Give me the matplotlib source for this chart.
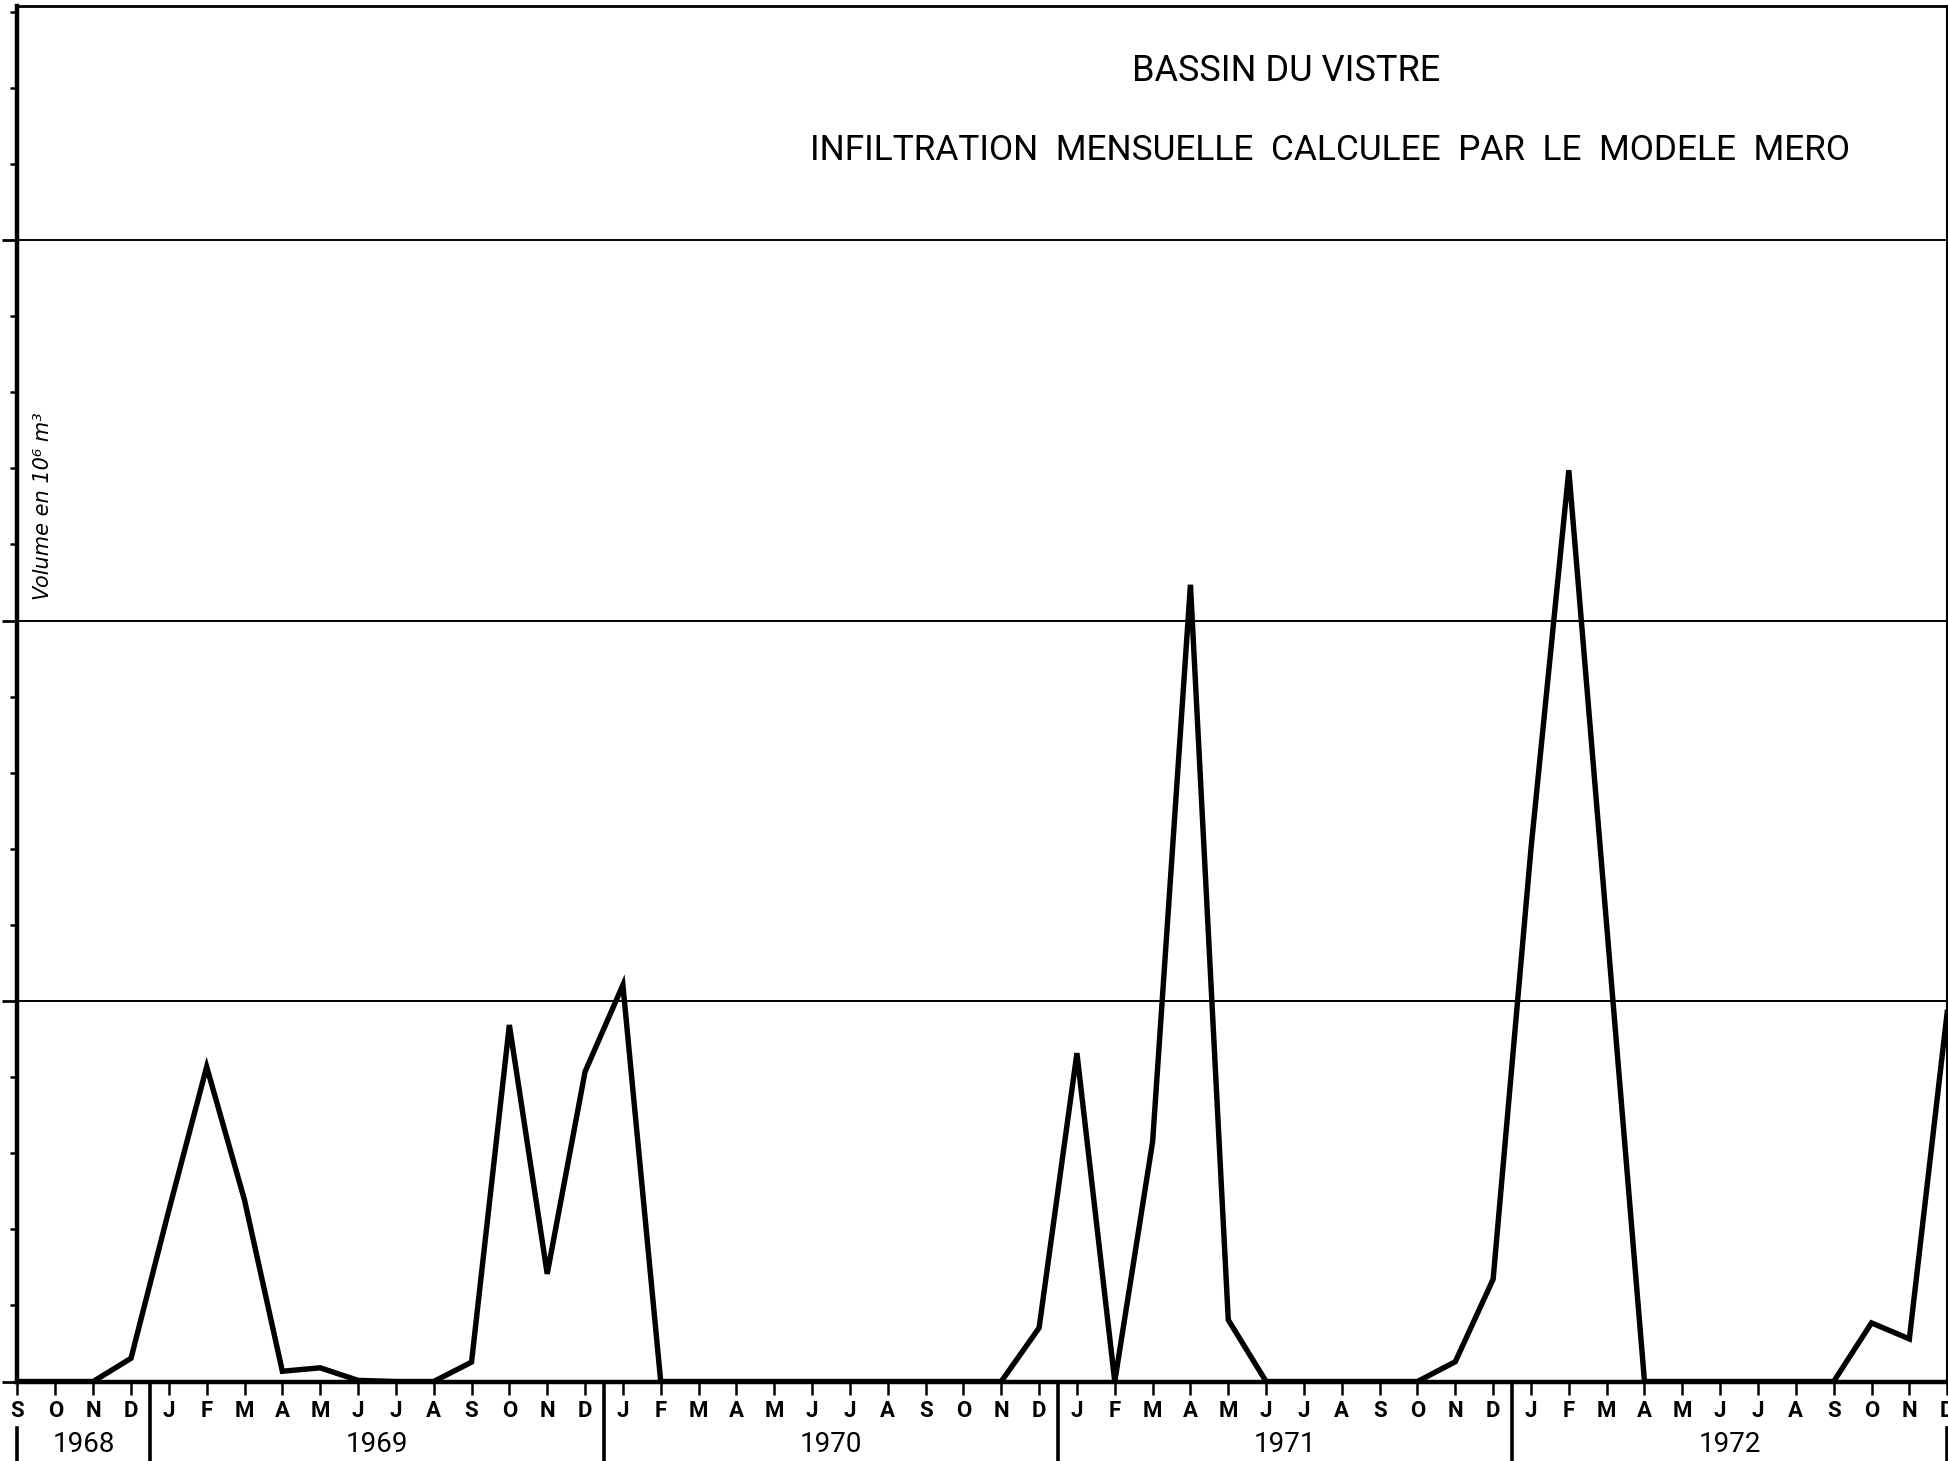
import matplotlib
matplotlib.use("Agg")
import matplotlib.pyplot as plt
import matplotlib.transforms as mtransforms
import numpy as np

# monthly infiltration, Sept 1968 -> Dec 1972 (10^6 m3)
month_labels = ["S", "O", "N", "D"] + ["J", "F", "M", "A", "M", "J", "J", "A", "S", "O", "N", "D"] * 4
years = ["1968", "1969", "1970", "1971", "1972"]
infiltration = [
    0.0, 0.0, 0.0, 0.61,                                        # 1968
    4.5, 8.27, 4.77, 0.27, 0.36, 0.03, 0.0, 0.0, 0.51, 9.37, 2.83, 8.14,   # 1969
    10.42, 0.0, 0.0, 0.0, 0.0, 0.0, 0.0, 0.0, 0.0, 0.0, 0.0, 1.41,        # 1970
    8.63, 0.0, 6.3, 20.94, 1.62, 0.0, 0.0, 0.0, 0.0, 0.0, 0.52, 2.69,     # 1971
    14.0, 23.95, 12.0, 0.0, 0.0, 0.0, 0.0, 0.0, 0.0, 1.54, 1.12, 9.7,     # 1972
]
year_breaks = [3.5, 15.5, 27.5, 39.5]
grid_levels = [10, 20, 30]

FONT = ["Roboto", "DejaVu Sans"]

fig = plt.figure(figsize=(19.48, 14.61), dpi=100)
ax = fig.add_axes([0.00898, 0.0544, 0.9906, 0.9415])

x = np.arange(len(infiltration))
ax.plot(x, infiltration, color="black", lw=3.9, solid_joinstyle="miter", zorder=3)

for g in grid_levels:
    ax.axhline(g, color="black", lw=1.4, zorder=1)

ax.set_xlim(0, len(infiltration) - 1)
ax.set_ylim(0, 36.15)

# frame
ax.spines["bottom"].set_linewidth(3.2)
ax.spines["left"].set_linewidth(3.2)
ax.spines["top"].set_linewidth(2.0)
ax.spines["right"].set_linewidth(1.5)

# y ticks without labels
ax.set_yticks([0, 10, 20, 30])
ax.set_yticks(np.arange(0, 37, 2), minor=True)
ax.tick_params(axis="y", which="major", direction="out", length=11, width=2, labelleft=False)
ax.tick_params(axis="y", which="minor", direction="out", length=5, width=1.8)

# month ticks
ax.set_xticks(x)
ax.set_xticklabels(month_labels, family=FONT, fontsize=16, fontweight="bold")
ax.tick_params(axis="x", direction="out", length=9, width=1.8, pad=4)

# year separators and labels below the axis
trans = mtransforms.blended_transform_factory(ax.transData, fig.transFigure)
for b in year_breaks:
    ax.plot([b, b], [0.0544, 0.0], transform=trans, color="black", lw=2.6, clip_on=False)
for edge in [0, len(infiltration) - 1]:
    ax.plot([edge, edge], [0.0226, 0.0], transform=trans, color="black", lw=2.6, clip_on=False)

year_pos = [1.75, 9.5, 21.5, 33.5, 45.25]
for xp, yr in zip(year_pos, years):
    ax.text(xp, 0.011, yr, transform=trans, ha="center", va="center",
            family=FONT, fontsize=20)

# titles
fig.text(1286 / 1948, 1 - 71 / 1461, "BASSIN DU VISTRE", ha="center", va="center",
         family=FONT, fontsize=26)
fig.text(1330 / 1948, 1 - 150 / 1461,
         "INFILTRATION  MENSUELLE  CALCULEE  PAR  LE  MODELE  MERO",
         ha="center", va="center", family=FONT, fontsize=25.4)

fig.text(43 / 1948, 1 - 506 / 1461, "Volume en 10⁶ m³", rotation=90, ha="center",
         va="center", family="DejaVu Sans", style="italic", fontsize=15)

fig.savefig("out.png", dpi=100)
